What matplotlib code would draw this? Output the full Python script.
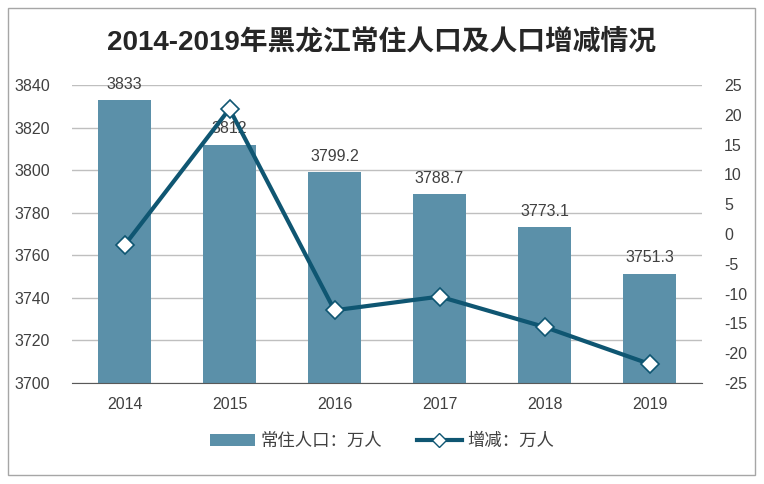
import matplotlib
matplotlib.use("Agg")
import matplotlib.pyplot as plt
from matplotlib.patches import Rectangle
from matplotlib.lines import Line2D
from matplotlib.patches import Patch

plt.rcParams['font.family'] = ['Liberation Sans', 'Noto Sans CJK SC', 'DejaVu Sans']
plt.rcParams['axes.unicode_minus'] = False

years = ["2014", "2015", "2016", "2017", "2018", "2019"]
population = [3833, 3812, 3799.2, 3788.7, 3773.1, 3751.3]
pop_labels = ["3833", "3812", "3799.2", "3788.7", "3773.1", "3751.3"]
change = [-1.9, 21.0, -12.8, -10.5, -15.6, -21.8]
left_ticks = [3700, 3720, 3740, 3760, 3780, 3800, 3820, 3840]
right_ticks = [-25, -20, -15, -10, -5, 0, 5, 10, 15, 20, 25]

bar_color = "#5B90A9"
line_color = "#0F5672"
text_color = "#404040"

fig = plt.figure(figsize=(7.64, 4.84), dpi=100)
fig.patches.append(Rectangle((8/764, 9/484), 747/764, 467/484, transform=fig.transFigure,
                             fill=False, edgecolor="#A6A6A6", linewidth=1.0))

ax = fig.add_axes([72/764, 1-383/484, 630/764, 298/484])
x = list(range(len(years)))
ax.bar(x, population, width=0.5, color=bar_color, zorder=2)
ax.set_ylim(3700, 3840)
ax.set_yticks(left_ticks)
ax.set_xlim(-0.5, len(years) - 0.5)
ax.set_xticks(x)
ax.set_xticklabels(years)
ax.grid(axis='y', color="#BFBFBF", linewidth=1.0, zorder=0)
ax.set_axisbelow(True)
for s in ['top', 'right', 'left']:
    ax.spines[s].set_visible(False)
ax.spines['bottom'].set_color("#595959")
ax.tick_params(axis='both', length=0, labelsize=11.5, colors=text_color)
ax.tick_params(axis='y', pad=16)
ax.tick_params(axis='x', pad=10)
for xi, v, lab in zip(x, population, pop_labels):
    ax.annotate(lab, (xi, v), xytext=(0, 6), textcoords='offset points',
                ha='center', va='bottom', fontsize=11.5, color=text_color, zorder=3)

ax2 = ax.twinx()
ax2.plot(x, change, color=line_color, linewidth=3, marker='D', markersize=9,
         markerfacecolor='white', markeredgecolor=line_color, markeredgewidth=1.2, zorder=4)
ax2.set_ylim(-25, 25)
ax2.set_yticks(right_ticks)
for s in ['top', 'right', 'left', 'bottom']:
    ax2.spines[s].set_visible(False)
ax2.tick_params(axis='y', length=0, labelsize=11.5, colors=text_color, pad=16)

fig.text(0.5, 1 - 42/484, "2014-2019年黑龙江常住人口及人口增减情况", ha='center', va='center',
         fontsize=20, fontweight='bold', color="#262626")

handles = [Patch(facecolor=bar_color, edgecolor='none'),
           Line2D([0], [0], color=line_color, linewidth=3, marker='D', markersize=7,
                  markerfacecolor='white', markeredgecolor=line_color)]
labels = ["常住人口：万人", "增减：万人"]
fig.legend(handles, labels, loc='center', bbox_to_anchor=(0.5, 1 - 441/484), ncol=2,
           frameon=False, fontsize=12.5, handlelength=2.6, columnspacing=2.0, handletextpad=0.3,
           labelcolor=text_color)

fig.savefig("out.png", dpi=100)
